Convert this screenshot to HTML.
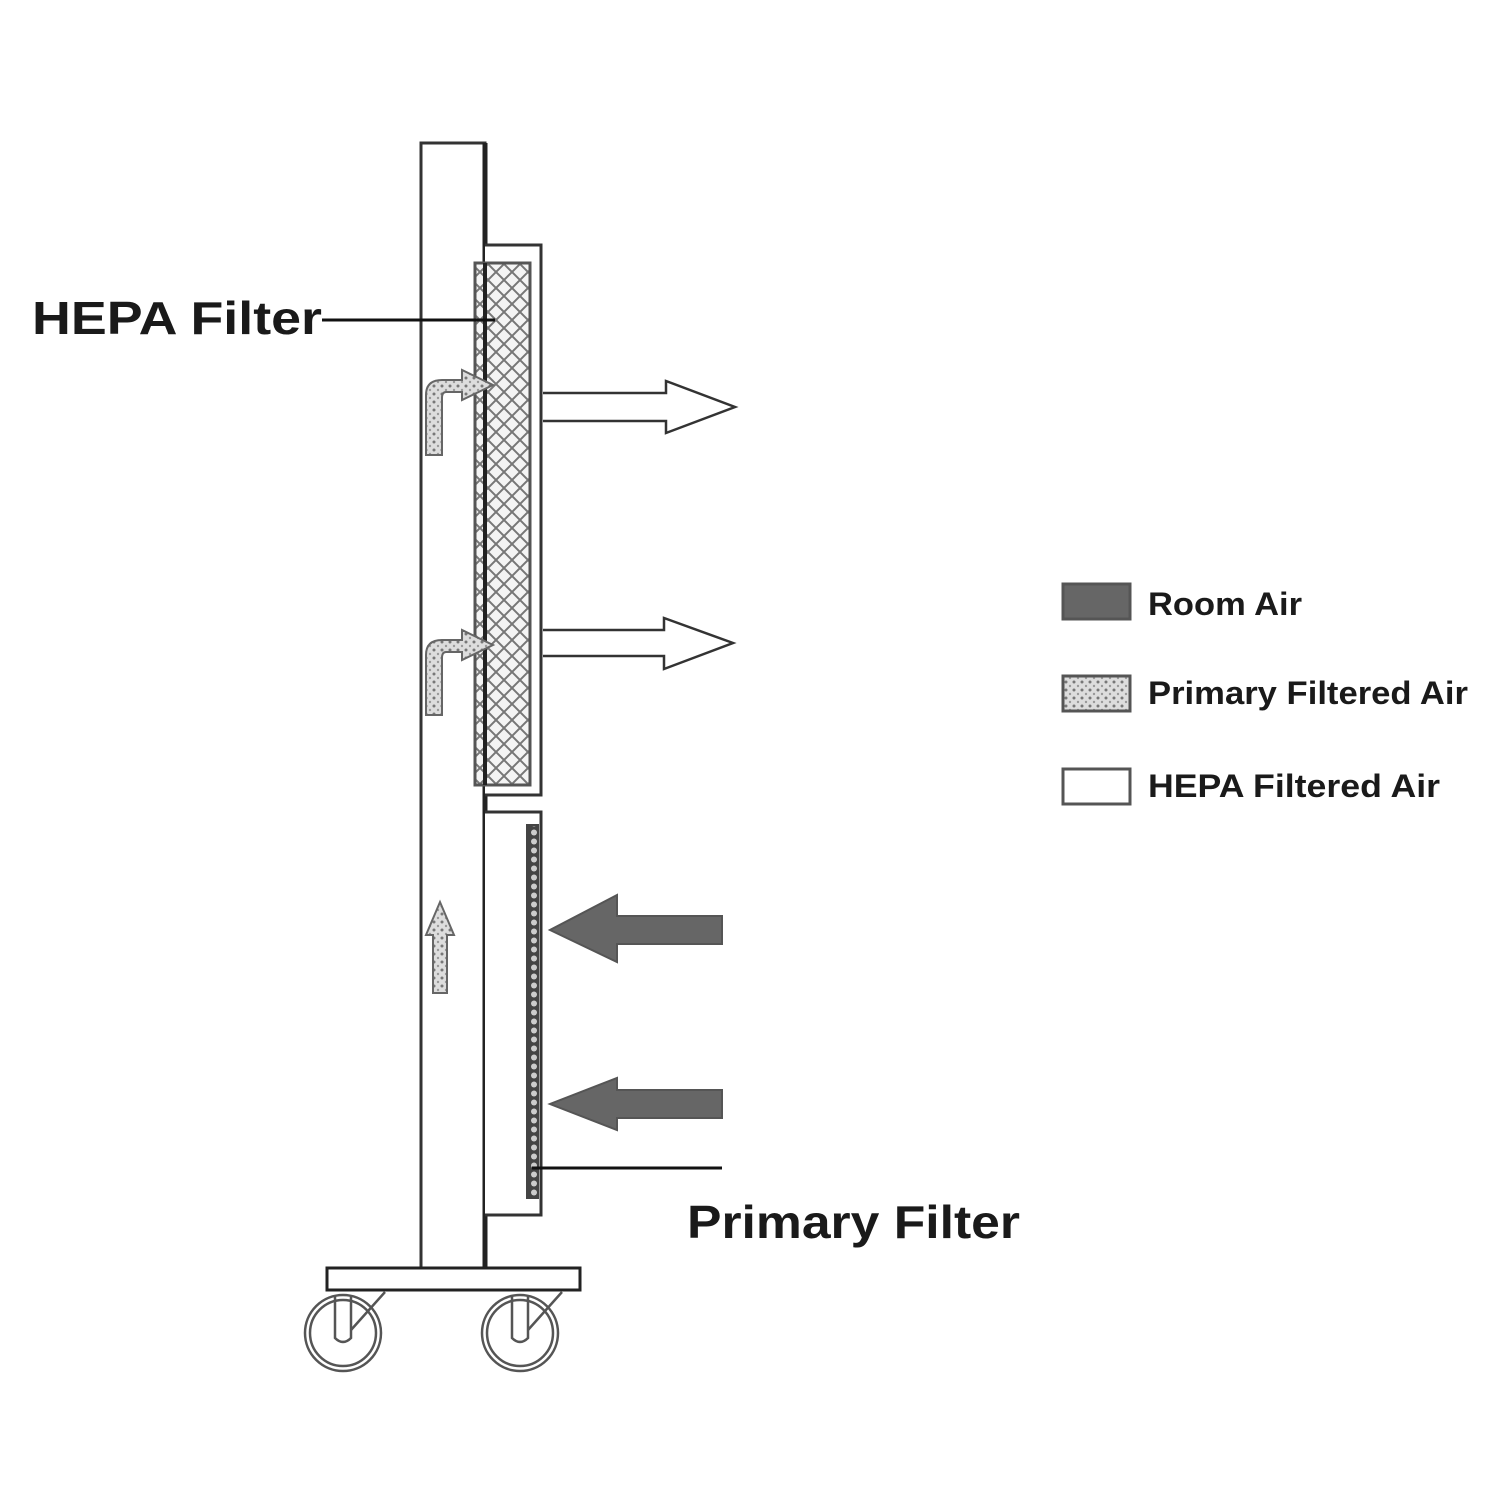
<!DOCTYPE html>
<html><head><style>body{margin:0;background:#fff}svg{display:block}</style></head><body>
<svg width="1504" height="1503" viewBox="0 0 1504 1503" xmlns="http://www.w3.org/2000/svg" font-family="Liberation Sans, Arial, sans-serif">
<defs>
<pattern id="mesh" width="16" height="16" patternUnits="userSpaceOnUse">
<rect width="16" height="16" fill="#f4f4f4"/>
<path d="M0 0 L16 16 M16 0 L0 16" stroke="#777" stroke-width="2"/>
</pattern>
<pattern id="dots" width="8" height="8" patternUnits="userSpaceOnUse">
<rect width="8" height="8" fill="#ddd"/>
<circle cx="2" cy="2" r="1.5" fill="#777"/><circle cx="6" cy="6" r="1.2" fill="#999"/>
</pattern>
<pattern id="beads" width="12" height="9" patternUnits="userSpaceOnUse">
<rect width="12" height="9" fill="#444"/>
<ellipse cx="6" cy="4.5" rx="3" ry="3" fill="#ccc"/>
</pattern>
</defs>
<g fill="none" stroke="#333" stroke-width="3">
<rect x="421" y="143" width="64" height="1125" fill="#fff"/>
<line x1="485" y1="143" x2="485" y2="1268" stroke-width="5" stroke="#222"/>
<path d="M485 245 H541 V795 H485" fill="#fff"/>
<rect x="475" y="263" width="55" height="522" fill="url(#mesh)" stroke="#555"/>
<line x1="485" y1="263" x2="485" y2="785" stroke="#222" stroke-width="4"/>
<path d="M485 812 H541 V1215 H485" fill="#fff"/>
<rect x="527" y="825" width="11" height="373" fill="url(#beads)" stroke="#444" stroke-width="2"/>
<path d="M543 393 H666 V381 L735 407 L666 433 V421 H543" fill="#fff" stroke-width="2.5"/>
<path d="M543 630 H664 V618 L733 643 L664 669 V656 H543" fill="#fff" stroke-width="2.5"/>
<path d="M722 916 H617 V895 L550 930 L617 962 V944 H722 Z" fill="#666" stroke="#555" stroke-width="2"/>
<path d="M722 1090 H617 V1078 L550 1104 L617 1130 V1118 H722 Z" fill="#666" stroke="#555" stroke-width="2"/>
<line x1="322" y1="320" x2="495" y2="320" stroke="#111" stroke-width="3"/>
<line x1="532" y1="1168" x2="722" y2="1168" stroke="#111" stroke-width="3"/>
<path d="M426 455 V395 Q426 380 442 380 H462 V370 L493 385 L462 400 V392 H446 Q442 392 442 398 V455 Z" fill="url(#dots)" stroke="#666" stroke-width="2"/>
<path d="M426 715 V655 Q426 640 442 640 H462 V630 L493 645 L462 660 V652 H446 Q442 652 442 658 V715 Z" fill="url(#dots)" stroke="#666" stroke-width="2"/>
<path d="M433 993 V935 H426 L440 902 L454 935 H447 V993 Z" fill="url(#dots)" stroke="#666" stroke-width="2"/>
<rect x="327" y="1268" width="253" height="22" fill="#fff" stroke="#222"/>
<g stroke="#555" stroke-width="2.5">
<circle cx="343" cy="1333" r="38"/><circle cx="343" cy="1333" r="33"/>
<path d="M335 1295 V1338 Q343 1346 351 1338 V1295"/><line x1="351" y1="1330" x2="385" y2="1292"/>
<circle cx="520" cy="1333" r="38"/><circle cx="520" cy="1333" r="33"/>
<path d="M512 1295 V1338 Q520 1346 528 1338 V1295"/><line x1="528" y1="1330" x2="562" y2="1292"/>
</g>
<rect x="1063" y="584" width="67" height="35" fill="#666" stroke="#555"/>
<rect x="1063" y="676" width="67" height="35" fill="url(#dots)" stroke="#555"/>
<rect x="1063" y="769" width="67" height="35" fill="#fff" stroke="#555"/>
</g>
<g fill="#1a1a1a" font-weight="bold">
<text x="32" y="334" font-size="46" textLength="290" lengthAdjust="spacingAndGlyphs">HEPA Filter</text>
<text x="687" y="1238" font-size="46" textLength="333" lengthAdjust="spacingAndGlyphs">Primary Filter</text>
<text x="1148" y="615" font-size="32" textLength="154" lengthAdjust="spacingAndGlyphs">Room Air</text>
<text x="1148" y="704" font-size="32" textLength="320" lengthAdjust="spacingAndGlyphs">Primary Filtered Air</text>
<text x="1148" y="797" font-size="32" textLength="292" lengthAdjust="spacingAndGlyphs">HEPA Filtered Air</text>
</g>
</svg>
</body></html>
